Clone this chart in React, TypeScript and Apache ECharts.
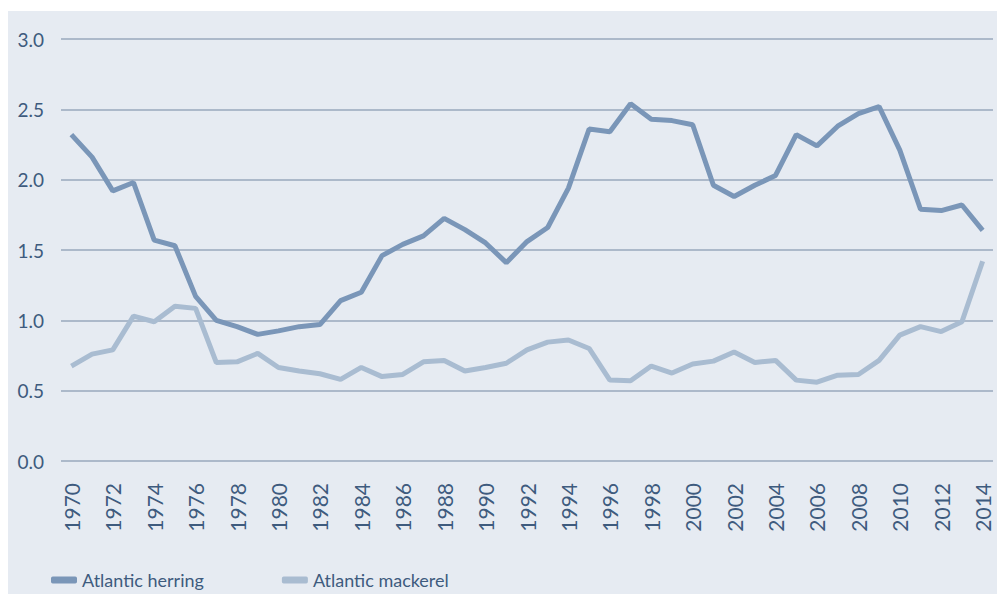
import React, { useEffect, useRef } from "react";
import * as echarts from "echarts";

const years: string[] = [];
for (let y = 1970; y <= 2014; y++) years.push(String(y));

const herring = [
  2.32, 2.16, 1.92, 1.98, 1.57, 1.53, 1.17, 1.0, 0.955, 0.9, 0.925, 0.955, 0.97,
  1.14, 1.2, 1.46, 1.54, 1.6, 1.725, 1.645, 1.55, 1.41, 1.56, 1.66, 1.94, 2.36,
  2.34, 2.54, 2.43, 2.42, 2.39, 1.96, 1.88, 1.96, 2.03, 2.32, 2.24, 2.38, 2.47,
  2.52, 2.21, 1.79, 1.78, 1.82, 1.64,
];

const mackerel = [
  0.675, 0.76, 0.79, 1.03, 0.99, 1.1, 1.085, 0.7, 0.705, 0.765, 0.665, 0.64, 0.62,
  0.58, 0.665, 0.6, 0.615, 0.705, 0.715, 0.64, 0.665, 0.695, 0.79, 0.845, 0.86,
  0.8, 0.575, 0.57, 0.675, 0.625, 0.69, 0.71, 0.775, 0.7, 0.715, 0.575, 0.56,
  0.61, 0.615, 0.715, 0.895, 0.955, 0.92, 0.99, 1.42,
];

const seriesNames = ["Atlantic herring", "Atlantic mackerel"];

export default function App() {
  const ref = useRef<HTMLDivElement>(null);
  useEffect(() => {
    if (!ref.current) return;
    const chart = echarts.init(ref.current, null, { renderer: "svg" });
    const textColor = "#3e5b7e";
    chart.setOption({
      animation: false,
      graphic: [
        {
          type: "rect",
          z: -10,
          shape: { x: 8, y: 11, width: 989, height: 583 },
          style: { fill: "#e6ebf2" },
        },
      ],
      grid: { left: 61, right: 5, top: 39, bottom: 133, containLabel: false },
      legend: {
        left: 51,
        top: 570,
        padding: 0,
        icon: "roundRect",
        itemWidth: 26,
        itemHeight: 7,
        itemGap: 78,
        textStyle: { color: textColor, fontSize: 18, fontFamily: "Lato", lineHeight: 20 },
        data: seriesNames,
      },
      xAxis: {
        type: "category",
        data: years,
        boundaryGap: true,
        axisLine: { show: false },
        axisTick: { show: false },
        axisLabel: {
          interval: 1,
          rotate: 90,
          margin: 22,
          color: textColor,
          fontSize: 21,
          fontFamily: "Lato",
        },
      },
      yAxis: {
        type: "value",
        min: 0,
        max: 3,
        interval: 0.5,
        axisLine: { show: false },
        axisTick: { show: false },
        axisLabel: {
          formatter: (v: number) => v.toFixed(1),
          margin: 17,
          color: textColor,
          fontSize: 19,
          fontFamily: "Lato",
        },
        splitLine: { lineStyle: { color: "#98a9bd", width: 1.5 } },
      },
      series: [
        {
          name: seriesNames[0],
          type: "line",
          data: herring,
          symbol: "none",
          lineStyle: { color: "#7a96b8", width: 5 },
          itemStyle: { color: "#7a96b8" },
          z: 3,
        },
        {
          name: seriesNames[1],
          type: "line",
          data: mackerel,
          symbol: "none",
          lineStyle: { color: "#a9bcd1", width: 5 },
          itemStyle: { color: "#a9bcd1" },
          z: 2,
        },
      ],
    });
    return () => chart.dispose();
  }, []);
  return (
    <div
      ref={ref}
      style={{ position: "absolute", left: 0, top: 0, width: 998, height: 594, background: "#fff" }}
    />
  );
}
